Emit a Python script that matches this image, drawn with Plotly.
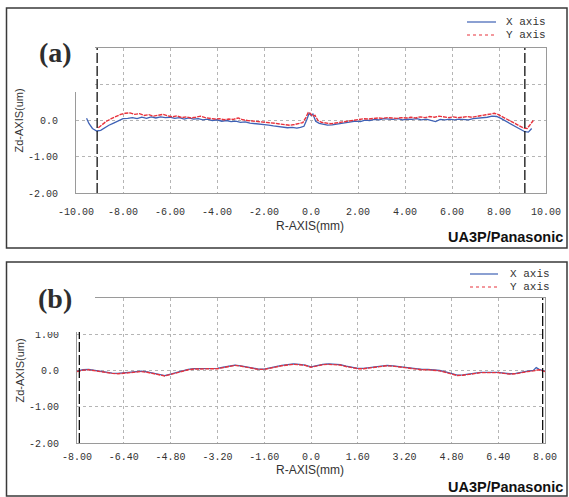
import plotly.graph_objects as go

W, H = 569, 497

# ---------------- data ----------------
# Panel (a): R from -10 to 10 mm
a_x_r = [-9.55, -9.45, -9.3, -9.12, -8.95, -8.8, -8.6, -8.4, -8.2, -8.0, -7.8, -7.6, -7.4, -7.2, -7.0,
         -6.8, -6.6, -6.4, -6.2, -6.0, -5.8, -5.6, -5.4, -5.2, -5.0, -4.8, -4.6, -4.4, -4.2, -4.0,
         -3.8, -3.6, -3.4, -3.2, -3.0, -2.8, -2.6, -2.4, -2.2, -2.0, -1.8, -1.6, -1.4, -1.2, -1.0,
         -0.8, -0.6, -0.45, -0.3, -0.18, -0.08, 0.0, 0.08, 0.2, 0.35, 0.5, 0.7, 0.9, 1.1, 1.3, 1.5,
         1.7, 1.9, 2.1, 2.3, 2.5, 2.7, 2.9, 3.1, 3.3, 3.5, 3.7, 3.9, 4.1, 4.3, 4.5, 4.7, 4.9, 5.1,
         5.3, 5.5, 5.7, 5.9, 6.1, 6.3, 6.5, 6.7, 6.9, 7.1, 7.3, 7.5, 7.7, 7.9, 8.1, 8.3, 8.5, 8.7,
         8.9, 9.1, 9.25, 9.39]
a_x_z = [0.06, -0.08, -0.22, -0.29, -0.27, -0.2, -0.13, -0.07, -0.01, 0.05, 0.06, 0.08, 0.05, 0.09, 0.06,
         0.1, 0.07, 0.1, 0.08, 0.09, 0.06, 0.08, 0.04, 0.07, 0.04, 0.05, 0.02, 0.04, 0.0, 0.02,
         -0.02, 0.0, -0.03, -0.02, -0.05, -0.04, -0.07, -0.08, -0.1, -0.11, -0.13, -0.15, -0.17, -0.18, -0.2,
         -0.19, -0.21, -0.19, -0.16, 0.02, 0.2, 0.14, 0.18, -0.02, -0.08, -0.1, -0.13, -0.12, -0.1, -0.08, -0.06,
         -0.05, -0.02, -0.03, 0.01, 0.0, 0.03, 0.02, 0.05, 0.04, 0.03, 0.05, 0.02, 0.04, 0.03, 0.05, 0.02, 0.04, 0.0,
         -0.03, 0.03, 0.02, 0.04, 0.02, 0.04, 0.03, 0.02, 0.05, 0.06, 0.08, 0.09, 0.12, 0.11, 0.05, -0.02, -0.09, -0.17,
         -0.25, -0.31, -0.32, -0.22]

a_y_r = [-9.05, -8.9, -8.7, -8.5, -8.3, -8.1, -7.9, -7.7, -7.5, -7.3, -7.1, -6.9, -6.7, -6.5, -6.3,
         -6.1, -5.9, -5.7, -5.5, -5.3, -5.1, -4.9, -4.7, -4.5, -4.3, -4.1, -3.9, -3.7, -3.5, -3.3,
         -3.1, -2.9, -2.7, -2.5, -2.3, -2.1, -1.9, -1.7, -1.5, -1.3, -1.1, -0.9, -0.7, -0.5, -0.35,
         -0.22, -0.12, -0.03, 0.07, 0.17, 0.3, 0.45, 0.65, 0.85, 1.05, 1.25, 1.45, 1.65, 1.85, 2.05,
         2.25, 2.45, 2.65, 2.85, 3.05, 3.25, 3.45, 3.65, 3.85, 4.05, 4.25, 4.45, 4.65, 4.85, 5.05,
         5.25, 5.45, 5.65, 5.85, 6.05, 6.25, 6.45, 6.65, 6.85, 7.05, 7.25, 7.45, 7.65, 7.8, 7.95,
         8.1, 8.3, 8.5, 8.7, 8.9, 9.05, 9.2, 9.33, 9.46]
a_y_z = [-0.2, -0.12, -0.02, 0.05, 0.12, 0.17, 0.2, 0.21, 0.17, 0.19, 0.14, 0.16, 0.12, 0.15, 0.17,
         0.13, 0.1, 0.13, 0.08, 0.1, 0.07, 0.09, 0.12, 0.08, 0.06, 0.04, 0.05, 0.02, 0.04, 0.03,
         0.07, 0.02, 0.0, -0.01, -0.03, -0.04, -0.05, -0.07, -0.08, -0.1, -0.12, -0.13, -0.11, -0.09, -0.06,
         0.08, 0.22, 0.2, 0.12, 0.14, 0.0, -0.05, -0.08, -0.09, -0.07, -0.05, -0.03, 0.0, 0.02, 0.03,
         0.05, 0.04, 0.06, 0.07, 0.06, 0.08, 0.07, 0.06, 0.08, 0.07, 0.09, 0.07, 0.1, 0.08, 0.11,
         0.09, 0.12, 0.09, 0.08, 0.1, 0.08, 0.09, 0.11, 0.09, 0.12, 0.13, 0.16, 0.18, 0.2, 0.17,
         0.12, 0.04, -0.03, -0.1, -0.16, -0.21, -0.22, -0.1, 0.0]

a_limits = [-9.1, 9.1]

# Panel (b): R from -8 to 8 mm
b_x_r = [-8.0, -7.8, -7.6, -7.4, -7.2, -7.0, -6.8, -6.6, -6.4, -6.2, -6.0, -5.8, -5.6, -5.4, -5.2,
         -5.0, -4.8, -4.6, -4.4, -4.2, -4.0, -3.8, -3.6, -3.4, -3.2, -3.0, -2.8, -2.6, -2.4, -2.2,
         -2.0, -1.8, -1.6, -1.4, -1.2, -1.0, -0.8, -0.6, -0.4, -0.2, 0.0, 0.2, 0.4, 0.6, 0.8,
         1.0, 1.2, 1.4, 1.6, 1.8, 2.0, 2.2, 2.4, 2.6, 2.8, 3.0, 3.2, 3.4, 3.6, 3.8,
         4.0, 4.2, 4.4, 4.6, 4.8, 5.0, 5.2, 5.4, 5.6, 5.8, 6.0, 6.2, 6.4, 6.6, 6.8,
         7.0, 7.2, 7.4, 7.6, 7.7, 7.8, 8.0]
b_x_z = [-0.02, 0.02, 0.03, 0.0, -0.03, -0.05, -0.07, -0.08, -0.06, -0.04, -0.02, -0.02, -0.04, -0.07, -0.12,
         -0.14, -0.1, -0.05, 0.0, 0.03, 0.05, 0.05, 0.04, 0.05, 0.06, 0.09, 0.13, 0.15, 0.13, 0.1,
         0.07, 0.04, 0.04, 0.08, 0.11, 0.14, 0.16, 0.18, 0.17, 0.15, 0.1, 0.14, 0.17, 0.18, 0.18,
         0.16, 0.12, 0.09, 0.06, 0.06, 0.08, 0.11, 0.13, 0.14, 0.13, 0.11, 0.08, 0.05, 0.04, 0.03,
         0.03, 0.02, 0.0, -0.04, -0.09, -0.13, -0.12, -0.09, -0.07, -0.05, -0.05, -0.04, -0.05, -0.07, -0.09,
         -0.08, -0.04, -0.02, 0.0, 0.08, 0.03, -0.02]

b_y_r = [-8.0, -7.8, -7.6, -7.4, -7.2, -7.0, -6.8, -6.6, -6.4, -6.2, -6.0, -5.8, -5.6, -5.4, -5.2,
         -5.0, -4.8, -4.6, -4.4, -4.2, -4.0, -3.8, -3.6, -3.4, -3.2, -3.0, -2.8, -2.6, -2.4, -2.2,
         -2.0, -1.8, -1.6, -1.4, -1.2, -1.0, -0.8, -0.6, -0.4, -0.2, 0.0, 0.2, 0.4, 0.6, 0.8,
         1.0, 1.2, 1.4, 1.6, 1.8, 2.0, 2.2, 2.4, 2.6, 2.8, 3.0, 3.2, 3.4, 3.6, 3.8,
         4.0, 4.2, 4.4, 4.6, 4.8, 5.0, 5.2, 5.4, 5.6, 5.8, 6.0, 6.2, 6.4, 6.6, 6.8,
         7.0, 7.2, 7.4, 7.6, 7.8, 8.0]
b_y_z = [-0.03, 0.01, 0.02, -0.01, -0.04, -0.06, -0.08, -0.09, -0.07, -0.05, -0.03, -0.03, -0.05, -0.08, -0.13,
         -0.15, -0.11, -0.06, -0.01, 0.02, 0.04, 0.04, 0.03, 0.04, 0.05, 0.08, 0.12, 0.14, 0.12, 0.09,
         0.06, 0.03, 0.03, 0.07, 0.1, 0.13, 0.15, 0.17, 0.16, 0.14, 0.09, 0.13, 0.16, 0.17, 0.17,
         0.15, 0.11, 0.08, 0.05, 0.05, 0.07, 0.1, 0.12, 0.13, 0.12, 0.1, 0.07, 0.04, 0.03, 0.02,
         0.02, 0.01, -0.01, -0.05, -0.1, -0.14, -0.13, -0.1, -0.08, -0.06, -0.06, -0.05, -0.06, -0.08, -0.1,
         -0.09, -0.05, -0.03, -0.01, 0.02, -0.03]

b_limits = [-7.92, 7.92]

a_xticks = [-10, -8, -6, -4, -2, 0, 2, 4, 6, 8, 10]
a_xticktext = ["-10.00", "-8.00", "-6.00", "-4.00", "-2.00", "0.0", "2.00", "4.00", "6.00", "8.00", "10.00"]
b_xticks = [-8, -6.4, -4.8, -3.2, -1.6, 0, 1.6, 3.2, 4.8, 6.4, 8]
b_xticktext = ["-8.00", "-6.40", "-4.80", "-3.20", "-1.60", "0.0", "1.60", "3.20", "4.80", "6.40", "8.00"]
yticks = [-2, -1, 0, 1, 2]
# labels hidden behind the panel-label box in the original are left blank
a_yticktext = ["-2.00", "-1.00", "0.0", "", ""]
b_yticktext = ["-2.00", "-1.00", "0.0", "1.00", ""]

series_names = ["X axis", "Y axis"]
panel_labels = ["(a)", "(b)"]
x_title = "R-AXIS(mm)"
y_title = "Zd-AXIS(um)"
brand = "UA3P/Panasonic"

# ---------------- styling ----------------
BLUE = "#3f62b5"
RED = "#e8323c"
TXT = "#333333"
MONO = "Liberation Mono, DejaVu Sans Mono, monospace"
SANS = "Liberation Sans, Arial, sans-serif"


def px(x):
    return x / W


def py(y):
    return 1 - y / H


fig = go.Figure()

panels = [
    dict(xa="x", ya="y", xr=a_x_r, xz=a_x_z, yr=a_y_r, yz=a_y_z, lim=a_limits),
    dict(xa="x2", ya="y2", xr=b_x_r, xz=b_x_z, yr=b_y_r, yz=b_y_z, lim=b_limits),
]
for p in panels:
    fig.add_trace(go.Scatter(x=p["xr"], y=p["xz"], mode="lines", xaxis=p["xa"], yaxis=p["ya"],
                             line=dict(color=BLUE, width=1.3), name=series_names[0], showlegend=False))
    fig.add_trace(go.Scatter(x=p["yr"], y=p["yz"], mode="lines", xaxis=p["xa"], yaxis=p["ya"],
                             line=dict(color=RED, width=1.4, dash="4px,1px"), name=series_names[1],
                             showlegend=False))
    for v in p["lim"]:
        fig.add_trace(go.Scatter(x=[v, v], y=[yticks[0], yticks[-1]], mode="lines", xaxis=p["xa"],
                                 yaxis=p["ya"], line=dict(color="#111111", width=1.3, dash="10px,3px"),
                                 showlegend=False, hoverinfo="skip"))

axis_common = dict(showline=True, mirror=True, linecolor="#9a9a9a", linewidth=1,
                   showgrid=True, gridcolor="#b5b5b5", griddash="dot", gridwidth=1,
                   zeroline=False, ticks="", automargin=False,
                   tickfont=dict(family=MONO, size=10, color=TXT))

fig.update_layout(
    template="none",
    width=W, height=H, autosize=False,
    margin=dict(l=0, r=0, t=0, b=0, pad=0),
    paper_bgcolor="white", plot_bgcolor="white",
    showlegend=False,
    xaxis=dict(domain=[px(76), px(546)], range=[-10, 10], tickvals=a_xticks, ticktext=a_xticktext,
               anchor="y", ticklabelstandoff=9, **axis_common),
    yaxis=dict(domain=[py(193), py(48)], range=[-2, 2], tickvals=yticks, ticktext=a_yticktext,
               anchor="x", ticklabelstandoff=15, **axis_common),
    xaxis2=dict(domain=[px(77), px(545)], range=[-8, 8], tickvals=b_xticks, ticktext=b_xticktext,
                anchor="y2", ticklabelstandoff=4, **axis_common),
    yaxis2=dict(domain=[py(443), py(298)], range=[-2, 2], tickvals=yticks, ticktext=b_yticktext,
                anchor="x2", ticklabelstandoff=15, **axis_common),
)

shapes = []
annotations = []

# outer panel frames
for (y0, y1) in [(8, 248), (262, 496)]:
    shapes.append(dict(type="rect", xref="paper", yref="paper", x0=px(6.5), x1=px(567),
                       y0=py(y1), y1=py(y0), line=dict(color="#3a3a3a", width=1.5),
                       fillcolor="rgba(0,0,0,0)", layer="above"))

# white boxes behind the panel labels (cover plot corner)
for (y0, y1) in [(28, 92), (272, 332)]:
    shapes.append(dict(type="rect", xref="paper", yref="paper", x0=px(8), x1=px(95),
                       y0=py(y1), y1=py(y0), line=dict(width=0), fillcolor="white", layer="above"))

# panel-specific texts
panel_pos = [
    dict(label_y=52, leg_y=(22, 35), leg_x=(467, 496, 504), xt_y=226, brand_y=237, yt_y=120.5),
    dict(label_y=298, leg_y=(274, 287), leg_x=(470, 498, 508), xt_y=470, brand_y=487, yt_y=370.5),
]
for i, pp in enumerate(panel_pos):
    annotations.append(dict(text="<b>" + panel_labels[i] + "</b>", xref="paper", yref="paper", x=px(55),
                            y=py(pp["label_y"]), showarrow=False, xanchor="center", yanchor="middle",
                            font=dict(family="Liberation Serif, DejaVu Serif, serif", size=28, color="#2e2e2e")))
    # legend
    lx0, lx1, tx = pp["leg_x"]
    for j, (name, col, dash) in enumerate([(series_names[0], BLUE, "solid"), (series_names[1], RED, "dot")]):
        yy = pp["leg_y"][j]
        shapes.append(dict(type="line", xref="paper", yref="paper", x0=px(lx0), x1=px(lx1),
                           y0=py(yy), y1=py(yy), line=dict(color=col, width=1.2, dash=dash)))
        annotations.append(dict(text=name, xref="paper", yref="paper", x=px(tx), y=py(yy),
                                showarrow=False, xanchor="left", yanchor="middle",
                                font=dict(family=MONO, size=11, color=TXT)))
    annotations.append(dict(text=x_title, xref="paper", yref="paper", x=px(310), y=py(pp["xt_y"]),
                            showarrow=False, xanchor="center", yanchor="middle",
                            font=dict(family=SANS, size=12, color=TXT)))
    annotations.append(dict(text="<b>" + brand + "</b>", xref="paper", yref="paper", x=px(565),
                            y=py(pp["brand_y"]), showarrow=False, xanchor="right", yanchor="middle",
                            font=dict(family=SANS, size=14.5, color="#111111")))
    annotations.append(dict(text=y_title, xref="paper", yref="paper", x=px(19), y=py(pp["yt_y"]),
                            showarrow=False, xanchor="center", yanchor="middle", textangle=-90,
                            font=dict(family=SANS, size=11, color=TXT)))

fig.update_layout(shapes=shapes, annotations=annotations)

fig.write_html("out.html", config={"displayModeBar": False},
               post_script="document.body.style.margin='0px';document.body.style.overflow='hidden';")
